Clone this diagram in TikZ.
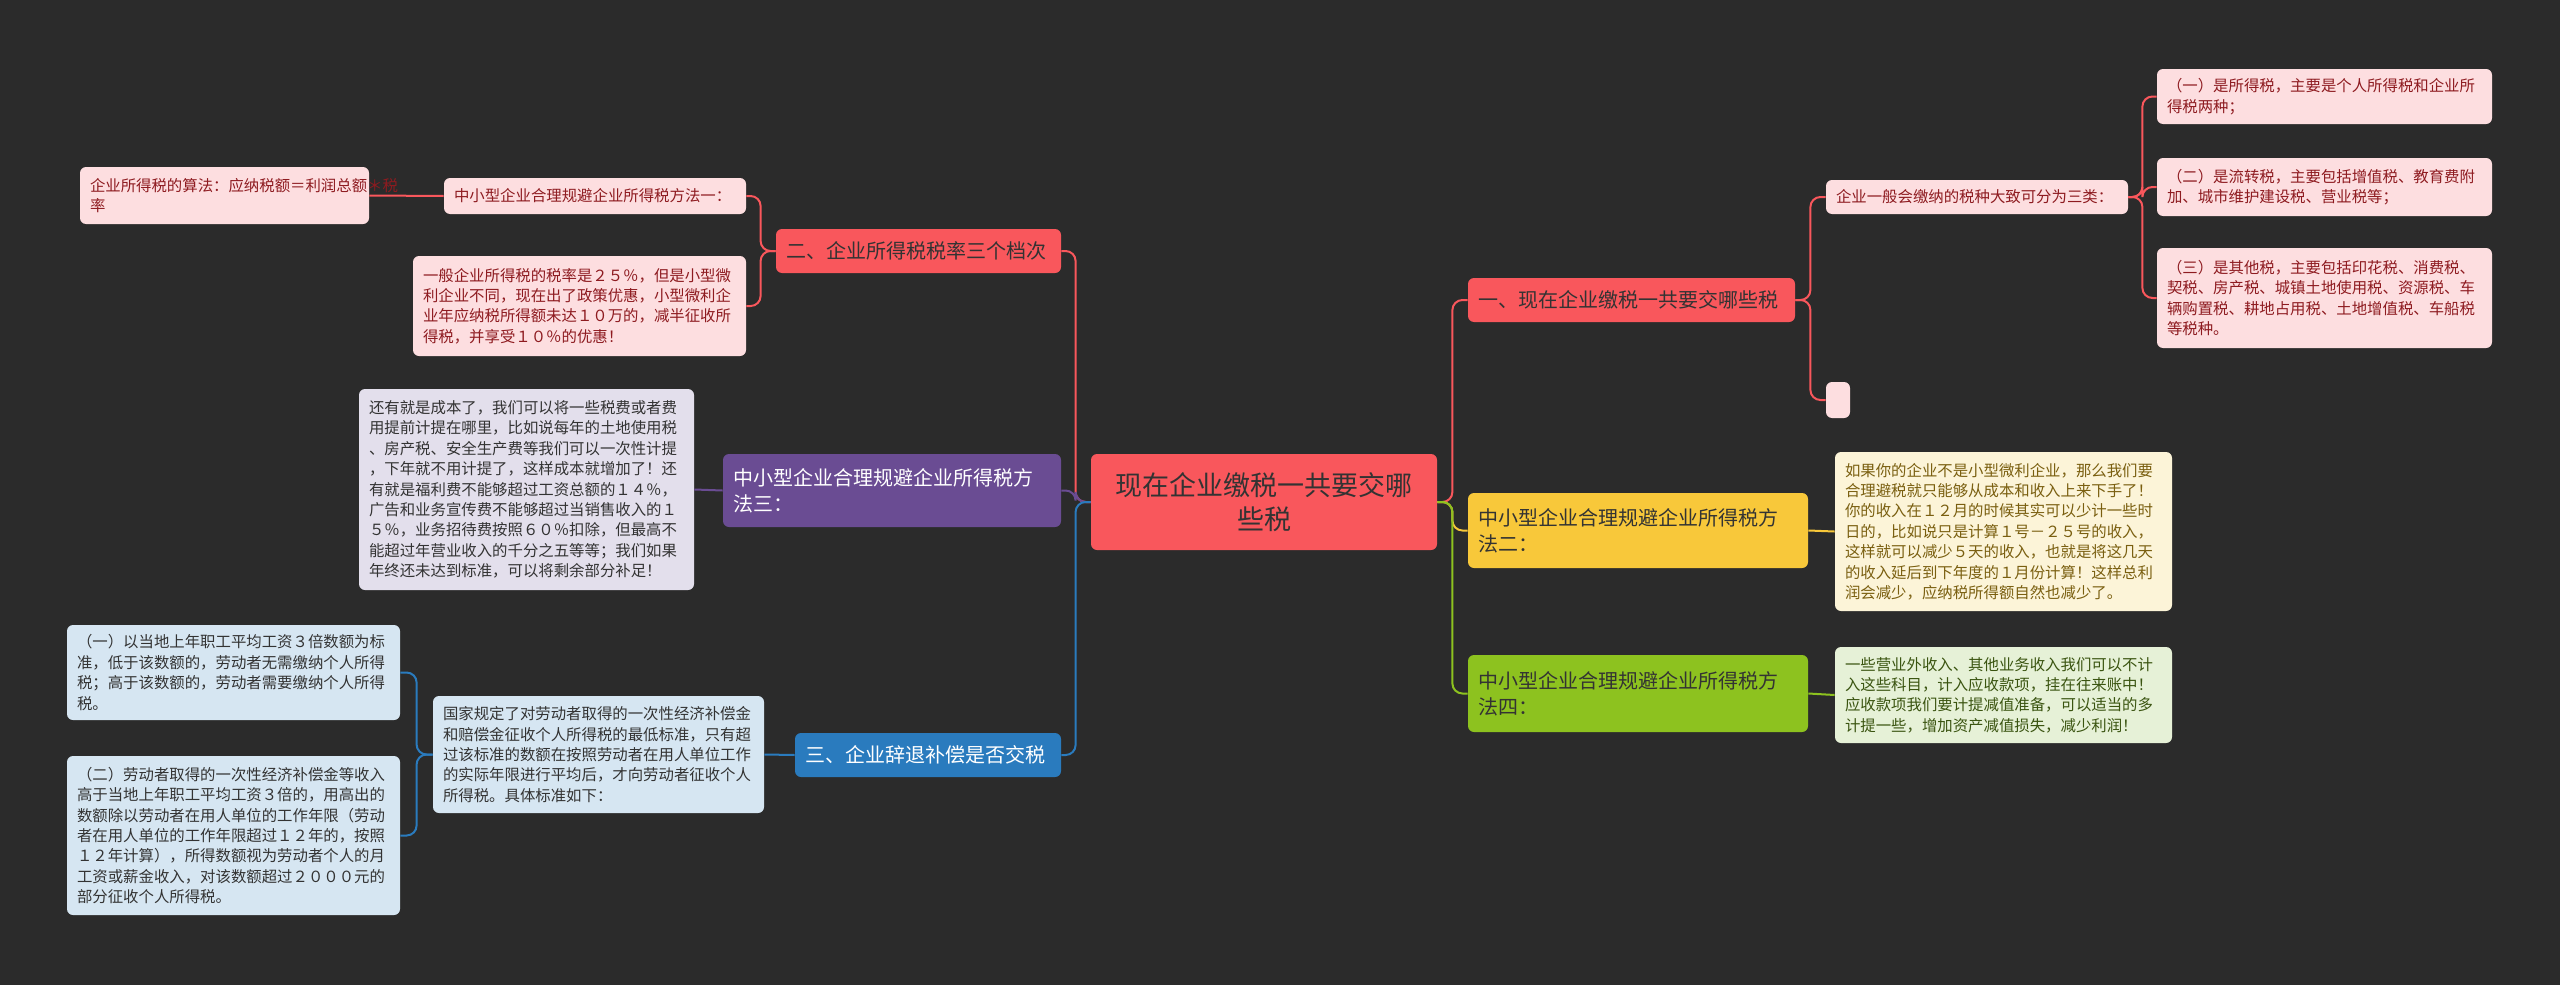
\documentclass[tikz,border=0pt]{standalone}
\usepackage{fontspec}
\setmainfont{Noto Sans CJK SC}
\definecolor{bg}{HTML}{2B2B2B}
\definecolor{cred}{HTML}{F9575C}
\definecolor{pinkf}{HTML}{FDDEE0}
\definecolor{pinkt}{HTML}{8E1B20}
\definecolor{cyel}{HTML}{F8C83A}
\definecolor{yelf}{HTML}{FCF4D8}
\definecolor{yelt}{HTML}{7A5F10}
\definecolor{cgrn}{HTML}{8DC21F}
\definecolor{grnf}{HTML}{E6F1D7}
\definecolor{grnt}{HTML}{3A5410}
\definecolor{cpur}{HTML}{6A4C93}
\definecolor{purf}{HTML}{E3DFEC}
\definecolor{cblu}{HTML}{2A7BBE}
\definecolor{bluf}{HTML}{D6E6F2}
\definecolor{darkt}{HTML}{333333}
\tikzset{
 bx/.style n args={2}{rounded corners=3pt, inner xsep=5pt, inner ysep=0pt, align=left, text width=#1pt-10pt, minimum height=#2pt},
 small/.style={font=\fontsize{7.7}{10.2}\selectfont},
 mid/.style={font=\fontsize{10}{13}\selectfont},
 pk/.style={fill=pinkf, text=pinkt, small},
 ln/.style={line width=1pt, rounded corners=5pt},
}
\begin{document}
\begin{tikzpicture}[x=0.5pt,y=-0.5pt]
\path[fill=bg] (0,0) rectangle (2560,985);
% center
\node[bx={173}{48}, fill=cred, text=darkt, align=center, font=\fontsize{13.5}{17}\selectfont] (C) at (1264,502) {现在企业缴税一共要交哪\\些税};
% right
\node[bx={163.5}{22}, fill=cred, text=darkt, mid] (B1) at (1631.5,300) {一、现在企业缴税一共要交哪些税};
\node[bx={151}{17}, pk] (R1) at (1977,197) {企业一般会缴纳的税种大致可分为三类：};
\node[bx={167.5}{27.5}, pk] (R11) at (2324.5,96.5) {（一）是所得税，主要是个人所得税和企业所\\得税两种；};
\node[bx={167.5}{29}, pk] (R12) at (2324.5,187) {（二）是流转税，主要包括增值税、教育费附\\加、城市维护建设税、营业税等；};
\node[bx={167.5}{50}, pk] (R13) at (2324.5,298) {（三）是其他税，主要包括印花税、消费税、\\契税、房产税、城镇土地使用税、资源税、车\\辆购置税、耕地占用税、土地增值税、车船税\\等税种。};
\node[rounded corners=3pt, fill=pinkf, minimum width=12pt, minimum height=18pt, inner sep=0] (R2) at (1838,400) {};
\node[bx={170}{37.5}, fill=cyel, text=darkt, mid] (B2) at (1638,530.5) {中小型企业合理规避企业所得税方\\法二：};
\node[bx={168.5}{79.5}, fill=yelf, text=yelt, small] (Y1) at (2003.5,531.5) {如果你的企业不是小型微利企业，那么我们要\\合理避税就只能够从成本和收入上来下手了！\\你的收入在１２月的时候其实可以少计一些时\\日的，比如说只是计算１号－２５号的收入，\\这样就可以减少５天的收入，也就是将这几天\\的收入延后到下年度的１月份计算！这样总利\\润会减少，应纳税所得额自然也减少了。};
\node[bx={170}{38.5}, fill=cgrn, text=darkt, mid] (B4) at (1638,693.5) {中小型企业合理规避企业所得税方\\法四：};
\node[bx={168.5}{48}, fill=grnf, text=grnt, small] (G1) at (2003.5,695) {一些营业外收入、其他业务收入我们可以不计\\入这些科目，计入应收款项，挂在往来账中！\\应收款项我们要计提减值准备，可以适当的多\\计提一些，增加资产减值损失，减少利润！};
% left
\node[bx={142.5}{22}, fill=cred, text=darkt, mid] (L1) at (918.5,251) {二、企业所得税税率三个档次};
\node[bx={151}{18}, pk] (L11) at (595,196) {中小型企业合理规避企业所得税方法一：};
\node[bx={144.5}{28.5}, pk] (L111) at (224.5,195.5) {企业所得税的算法：应纳税额＝利润总额＊税\\率};
\node[bx={166.5}{50}, pk] (L12) at (579.5,306) {一般企业所得税的税率是２５％，但是小型微\\利企业不同，现在出了政策优惠，小型微利企\\业年应纳税所得额未达１０万的，减半征收所\\得税，并享受１０％的优惠！};
\node[bx={169}{36.5}, fill=cpur, text=white, mid] (L2) at (892,490.5) {中小型企业合理规避企业所得税方\\法三：};
\node[bx={167.5}{100.5}, fill=purf, text=darkt, small] (L21) at (526.5,489.5) {还有就是成本了，我们可以将一些税费或者费\\用提前计提在哪里，比如说每年的土地使用税\\、房产税、安全生产费等我们可以一次性计提\\，下年就不用计提了，这样成本就增加了！还\\有就是福利费不能够超过工资总额的１４％，\\广告和业务宣传费不能够超过当销售收入的１\\５％，业务招待费按照６０％扣除，但最高不\\能超过年营业收入的千分之五等等；我们如果\\年终还未达到标准，可以将剩余部分补足！};
\node[bx={133}{22}, fill=cblu, text=white, mid] (L3) at (928,755) {三、企业辞退补偿是否交税};
\node[bx={165.5}{58.5}, fill=bluf, text=darkt, small] (L31) at (598.5,754.5) {国家规定了对劳动者取得的一次性经济补偿金\\和赔偿金征收个人所得税的最低标准，只有超\\过该标准的数额在按照劳动者在用人单位工作\\的实际年限进行平均后，才向劳动者征收个人\\所得税。具体标准如下：};
\node[bx={166.5}{47.5}, fill=bluf, text=darkt, small] (L311) at (233.5,672.5) {（一）以当地上年职工平均工资３倍数额为标\\准，低于该数额的，劳动者无需缴纳个人所得\\税；高于该数额的，劳动者需要缴纳个人所得\\税。};
\node[bx={166.5}{79.5}, fill=bluf, text=darkt, small] (L312) at (233.5,835.5) {（二）劳动者取得的一次性经济补偿金等收入\\高于当地上年职工平均工资３倍的，用高出的\\数额除以劳动者在用人单位的工作年限（劳动\\者在用人单位的工作年限超过１２年的，按照\\１２年计算），所得数额视为劳动者个人的月\\工资或薪金收入，对该数额超过２０００元的\\部分征收个人所得税。};
% connectors
\draw[ln, cred] (C.east) -- ++(15,0) |- (B1.west);
\draw[ln, cyel] (C.east) -- ++(15,0) |- (B2.west);
\draw[ln, cgrn] (C.east) -- ++(15,0) |- (B4.west);
\draw[ln, cred] (B1.east) -- ++(15,0) |- (R1.west);
\draw[ln, cred] (B1.east) -- ++(15,0) |- (R2.west);
\draw[ln, cred] (R1.east) -- ++(14,0) |- (R11.west);
\draw[ln, cred] (R1.east) -- ++(14,0) |- (R12.west);
\draw[ln, cred] (R1.east) -- ++(14,0) |- (R13.west);
\draw[ln, cyel] (B2.east) -- (Y1.west);
\draw[ln, cgrn] (B4.east) -- (G1.west);
\draw[ln, cred] (C.west) -- ++(-15,0) |- (L1.east);
\draw[ln, cpur] (C.west) -- ++(-15,0) |- (L2.east);
\draw[ln, cblu] (C.west) -- ++(-15,0) |- (L3.east);
\draw[ln, cred] (L1.west) -- ++(-15,0) |- (L11.east);
\draw[ln, cred] (L1.west) -- ++(-15,0) |- (L12.east);
\draw[ln, cred] (L11.west) -- (L111.east);
\draw[ln, cpur] (L2.west) -- (L21.east);
\draw[ln, cblu] (L3.west) -- (L31.east);
\draw[ln, cblu] (L31.west) -- ++(-16,0) |- (L311.east);
\draw[ln, cblu] (L31.west) -- ++(-16,0) |- (L312.east);
\end{tikzpicture}
\end{document}
